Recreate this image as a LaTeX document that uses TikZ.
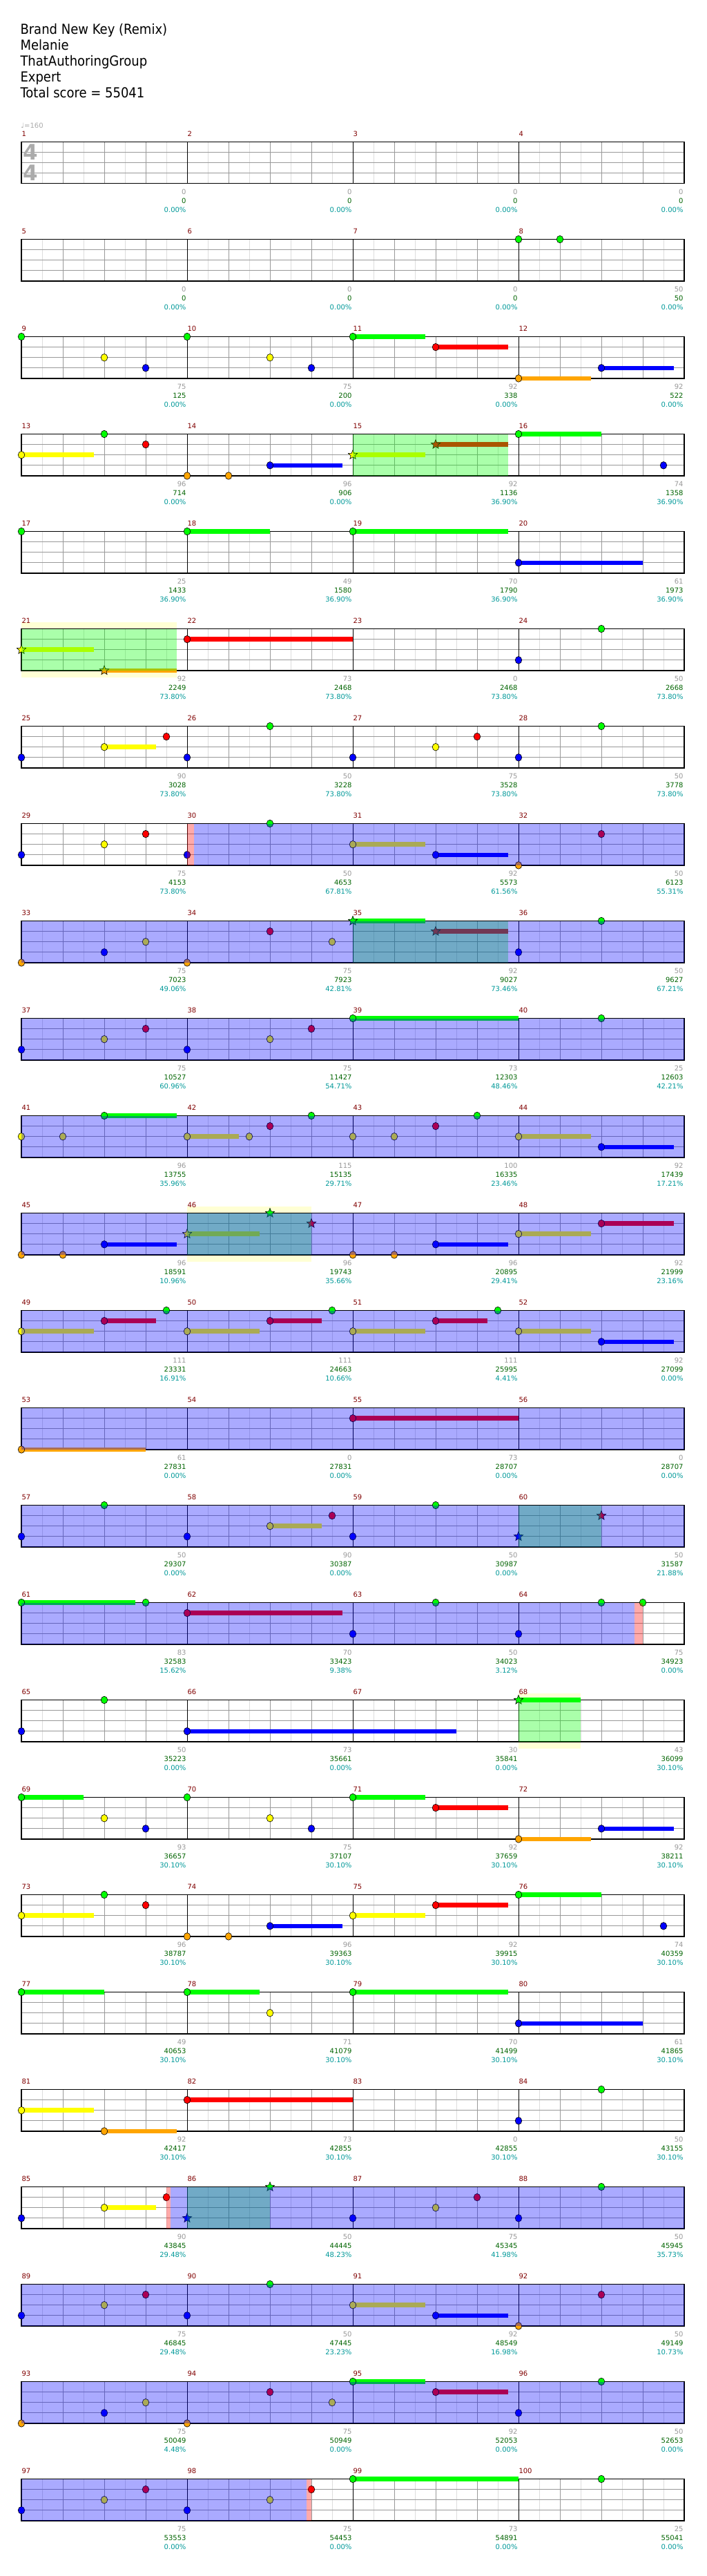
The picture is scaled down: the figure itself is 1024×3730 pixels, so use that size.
\documentclass[tikz,border=0pt]{standalone}
\usepackage{fontspec}
\setmainfont{DejaVu Sans}
\newfontfamily\titlefont[FakeStretch=0.9]{DejaVu Sans}
\usepackage{xcolor}
\usepackage{tikz}
\usetikzlibrary{shapes.geometric}

% fret colours
\definecolor{gn}{RGB}{0,255,0}
\definecolor{rd}{RGB}{255,0,0}
\definecolor{yl}{RGB}{255,255,0}
\definecolor{bl}{RGB}{0,0,255}
\definecolor{og}{RGB}{255,165,0}
% text and sections
\definecolor{barnum}{RGB}{128,0,0}
\definecolor{gcount}{RGB}{153,153,153}
\definecolor{scorecol}{RGB}{0,100,0}
\definecolor{pctcol}{RGB}{0,153,153}
\definecolor{halo}{RGB}{255,255,212}
\definecolor{eighthgray}{RGB}{221,221,221}
\definecolor{quartergray}{RGB}{153,153,153}

% position p (bar.fraction) and lane -> \nx, \ny, \nc
\newcommand\chartxy[2]{%
  \pgfmathsetmacro\rowi{floor((#1-1)/4)}%
  \pgfmathsetmacro\nx{31+240*(#1-1-4*\rowi)}%
  \pgfmathsetmacro\ny{205.5+141*\rowi+15.1*#2}%
  \edef\nc{\ifcase\numexpr#2\relax gn\or rd\or yl\or bl\or og\fi}}

\begin{document}
\begin{tikzpicture}[x=1pt, y=-1pt,
  every node/.style={inner sep=0pt, outer sep=0pt},
  headline/.style={anchor=base west, font=\titlefont\fontsize{20}{23}\selectfont},
  smalltext/.style={font=\fontsize{10}{12}\selectfont},
  barnumber/.style={smalltext, text=barnum, anchor=base west},
  countlabel/.style={smalltext, anchor=base east},
  timesig/.style={font=\bfseries\fontsize{31}{31}\selectfont, text=black!33},
  eighthline/.style={eighthgray, line width=1pt},
  quarterline/.style={quartergray, line width=1pt},
  barline/.style={black, line width=1pt},
  staffframe/.style={black, line width=1.2pt},
  gem/.style={draw=black, line width=0.6pt},
  stargem/.style={star, star points=5, star point ratio=2.3, minimum size=14pt, draw=black, line width=0.6pt},
  overlay/.style={fill opacity=0.333}]

  % Page
  \fill[white] (0,0) rectangle (1024,3730);
  \useasboundingbox (0,0) rectangle (1024,3730);

  % Header
  \foreach \t [count=\i] in {Brand New Key (Remix), Melanie, ThatAuthoringGroup, Expert, Total score = 55041}
    \node[headline] (title\i) at (29.5,{26+23.1*\i}) {\t};
  \node[smalltext, anchor=base west, text=black!33] (tempo) at (30.5,185.5) {♩=160};

  % Star power halos
  \foreach \p/\q in {21/21.9375, 46/46.75, 68/68.375} {
    \chartxy{\p}{0}
    \fill[halo] (\nx,\ny-10) rectangle ({\nx+240*(\q-\p)},\ny+70.4);
  }

  % Staves
  \foreach \r in {0,...,24} {
    \pgfmathsetmacro\rowtop{205.5+141*\r}
    \fill[white] (31,\rowtop) rectangle (991,\rowtop+60.4);
    \foreach \i in {0,...,15} \draw[eighthline] (61+60*\i,\rowtop) -- ++(0,60.4);
    \foreach \j in {1,2,3} \draw[quarterline] (31,\rowtop+15.1*\j) -- (991,\rowtop+15.1*\j);
    \foreach \i in {1,...,15} \draw[quarterline] (31+60*\i,\rowtop) -- ++(0,60.4);
    \foreach \i in {1,2,3} \draw[barline] (31+240*\i,\rowtop) -- ++(0,60.4);
    \draw[staffframe] (31,\rowtop) rectangle (991,\rowtop+60.4);
  }

  % Time signature
  \node[timesig] (sigtop) at (44.5,220.5) {4};
  \node[timesig] (sigbot) at (44.5,250.5) {4};

  % Sustains
  \foreach \p/\dur/\l in {11/0.4375/0, 11.5/0.4375/1, 12/0.4375/4, 12.5/0.4375/3,
      13/0.4375/2, 14.5/0.4375/3, 15/0.4375/2, 15.5/0.4375/1, 16/0.5/0,
      18/0.5/0, 19/0.9375/0, 20/0.75/3,
      21/0.4375/2, 21.5/0.4375/4, 22/1/1, 25.5/0.3125/2,
      31/0.4375/2, 31.5/0.4375/3, 35/0.4375/0, 35.5/0.4375/1, 39/1/0,
      41.5/0.4375/0, 42/0.3125/2, 44/0.4375/2, 44.5/0.4375/3,
      45.5/0.4375/3, 46/0.4375/2, 47.5/0.4375/3, 48/0.4375/2, 48.5/0.4375/1,
      49/0.4375/2, 49.5/0.3125/1, 50/0.4375/2, 50.5/0.3125/1, 51/0.4375/2, 51.5/0.3125/1, 52/0.4375/2, 52.5/0.4375/3,
      53/0.75/4, 55/1/1, 58.5/0.3125/2, 61/0.6875/0, 62/0.9375/1,
      66/1.625/3, 68/0.375/0,
      69/0.375/0, 71/0.4375/0, 71.5/0.4375/1, 72/0.4375/4, 72.5/0.4375/3,
      73/0.4375/2, 74.5/0.4375/3, 75/0.4375/2, 75.5/0.4375/1, 76/0.5/0,
      77/0.5/0, 78/0.4375/0, 79/0.9375/0, 80/0.75/3,
      81/0.4375/2, 81.5/0.4375/4, 82/1/1, 85.5/0.3125/2,
      91/0.4375/2, 91.5/0.4375/3, 95/0.4375/0, 95.5/0.4375/1, 99/1/0} {
    \chartxy{\p}{\l}
    \fill[\nc] (\nx,\ny-3.25) rectangle ({\nx+240*\dur},\ny+3.25);
  }

  % Notes
  \foreach \p/\l in {8/0, 8.25/0,
      9/0, 9.5/2, 9.75/3, 10/0, 10.5/2, 10.75/3, 11/0, 11.5/1, 12/4, 12.5/3,
      13/2, 13.5/0, 13.75/1, 14/4, 14.25/4, 14.5/3, 16/0, 16.875/3,
      17/0, 18/0, 19/0, 20/3, 22/1, 24/3, 24.5/0,
      25/3, 25.5/2, 25.875/1, 26/3, 26.5/0, 27/3, 27.5/2, 27.75/1, 28/3, 28.5/0,
      29/3, 29.5/2, 29.75/1, 30/3, 30.5/0, 31/2, 31.5/3, 32/4, 32.5/1,
      33/4, 33.5/3, 33.75/2, 34/4, 34.5/1, 34.875/2, 36/3, 36.5/0,
      37/3, 37.5/2, 37.75/1, 38/3, 38.5/2, 38.75/1, 39/0, 40.5/0,
      41/2, 41.25/2, 41.5/0, 42/2, 42.375/2, 42.5/1, 42.75/0, 43/2, 43.25/2, 43.5/1, 43.75/0, 44/2, 44.5/3,
      45/4, 45.25/4, 45.5/3, 47/4, 47.25/4, 47.5/3, 48/2, 48.5/1,
      49/2, 49.5/1, 49.875/0, 50/2, 50.5/1, 50.875/0, 51/2, 51.5/1, 51.875/0, 52/2, 52.5/3,
      53/4, 55/1, 57/3, 57.5/0, 58/3, 58.5/2, 58.875/1, 59/3, 59.5/0,
      61/0, 61.75/0, 62/1, 63/3, 63.5/0, 64/3, 64.5/0, 64.75/0,
      65/3, 65.5/0, 66/3,
      69/0, 69.5/2, 69.75/3, 70/0, 70.5/2, 70.75/3, 71/0, 71.5/1, 72/4, 72.5/3,
      73/2, 73.5/0, 73.75/1, 74/4, 74.25/4, 74.5/3, 75/2, 75.5/1, 76/0, 76.875/3,
      77/0, 78/0, 78.5/2, 79/0, 80/3, 81/2, 81.5/4, 82/1, 84/3, 84.5/0,
      85/3, 85.5/2, 85.875/1, 87/3, 87.5/2, 87.75/1, 88/3, 88.5/0,
      89/3, 89.5/2, 89.75/1, 90/3, 90.5/0, 91/2, 91.5/3, 92/4, 92.5/1,
      93/4, 93.5/3, 93.75/2, 94/4, 94.5/1, 94.875/2, 95/0, 95.5/1, 96/3, 96.5/0,
      97/3, 97.5/2, 97.75/1, 98/3, 98.5/2, 98.75/1, 99/0, 100.5/0} {
    \chartxy{\p}{\l}
    \filldraw[gem, fill=\nc] (\nx,\ny) ellipse [x radius=4.8, y radius=5.3];
  }
  % Star power notes
  \foreach \p/\l [count=\k] in {15/2, 15.5/1, 21/2, 21.5/4, 35/0, 35.5/1, 46/2, 46.5/0,
      46.75/1, 60/3, 60.5/1, 68/0, 86/3, 86.5/0} {
    \chartxy{\p}{\l}
    \node[stargem, fill=\nc] (sp\k) at (\nx,\ny) {};
  }

  % Phrases, activations and their edges
  \foreach \p/\q/\pc in {15/15.9375/gn, 21/21.9375/gn, 35/35.9375/gn, 46/46.75/gn,
      60/60.5/gn, 68/68.375/gn, 86/86.5/gn,
      30.04/33/bl, 33/37/bl, 37/41/bl, 41/45/bl, 45/49/bl, 49/53/bl, 53/57/bl,
      57/61/bl, 61/64.70/bl, 85.9/89/bl, 89/93/bl, 93/97/bl, 97/98.72/bl,
      30/30.04/rd, 64.70/64.75/rd, 85.875/85.9/rd, 98.72/98.75/rd} {
    \chartxy{\p}{0}
    \fill[overlay, \pc] (\nx,\ny) rectangle ({\nx+240*(\q-\p)},\ny+60.4);
  }

  % Bar numbers and counts
  \foreach \m/\gc/\sc/\pc in {1/0/0/0.00, 2/0/0/0.00, 3/0/0/0.00, 4/0/0/0.00,
      5/0/0/0.00, 6/0/0/0.00, 7/0/0/0.00, 8/50/50/0.00,
      9/75/125/0.00, 10/75/200/0.00, 11/92/338/0.00, 12/92/522/0.00,
      13/96/714/0.00, 14/96/906/0.00, 15/92/1136/36.90, 16/74/1358/36.90,
      17/25/1433/36.90, 18/49/1580/36.90, 19/70/1790/36.90, 20/61/1973/36.90,
      21/92/2249/73.80, 22/73/2468/73.80, 23/0/2468/73.80, 24/50/2668/73.80,
      25/90/3028/73.80, 26/50/3228/73.80, 27/75/3528/73.80, 28/50/3778/73.80,
      29/75/4153/73.80, 30/50/4653/67.81, 31/92/5573/61.56, 32/50/6123/55.31,
      33/75/7023/49.06, 34/75/7923/42.81, 35/92/9027/73.46, 36/50/9627/67.21,
      37/75/10527/60.96, 38/75/11427/54.71, 39/73/12303/48.46, 40/25/12603/42.21,
      41/96/13755/35.96, 42/115/15135/29.71, 43/100/16335/23.46, 44/92/17439/17.21,
      45/96/18591/10.96, 46/96/19743/35.66, 47/96/20895/29.41, 48/92/21999/23.16,
      49/111/23331/16.91, 50/111/24663/10.66, 51/111/25995/4.41, 52/92/27099/0.00,
      53/61/27831/0.00, 54/0/27831/0.00, 55/73/28707/0.00, 56/0/28707/0.00,
      57/50/29307/0.00, 58/90/30387/0.00, 59/50/30987/0.00, 60/50/31587/21.88,
      61/83/32583/15.62, 62/70/33423/9.38, 63/50/34023/3.12, 64/75/34923/0.00,
      65/50/35223/0.00, 66/73/35661/0.00, 67/30/35841/0.00, 68/43/36099/30.10,
      69/93/36657/30.10, 70/75/37107/30.10, 71/92/37659/30.10, 72/92/38211/30.10,
      73/96/38787/30.10, 74/96/39363/30.10, 75/92/39915/30.10, 76/74/40359/30.10,
      77/49/40653/30.10, 78/71/41079/30.10, 79/70/41499/30.10, 80/61/41865/30.10,
      81/92/42417/30.10, 82/73/42855/30.10, 83/0/42855/30.10, 84/50/43155/30.10,
      85/90/43845/29.48, 86/50/44445/48.23, 87/75/45345/41.98, 88/50/45945/35.73,
      89/75/46845/29.48, 90/50/47445/23.23, 91/92/48549/16.98, 92/50/49149/10.73,
      93/75/50049/4.48, 94/75/50949/0.00, 95/92/52053/0.00, 96/50/52653/0.00,
      97/75/53553/0.00, 98/75/54453/0.00, 99/73/54891/0.00, 100/25/55041/0.00} {
    \pgfmathsetmacro\rowi{floor((\m-1)/4)}
    \pgfmathsetmacro\colx{31+240*(\m-1-4*\rowi)}
    \pgfmathsetmacro\rowtop{205.5+141*\rowi}
    \node[barnumber] (bar\m) at (\colx+0.5,\rowtop-8) {\m};
    \node[countlabel, text=gcount] (cnt\m) at (\colx+238.5,\rowtop+76) {\gc};
    \node[countlabel, text=scorecol] (score\m) at (\colx+238.5,\rowtop+89) {\sc};
    \node[countlabel, text=pctcol] (pct\m) at (\colx+238.5,\rowtop+102) {\pc\%};
  }
\end{tikzpicture}
\end{document}
